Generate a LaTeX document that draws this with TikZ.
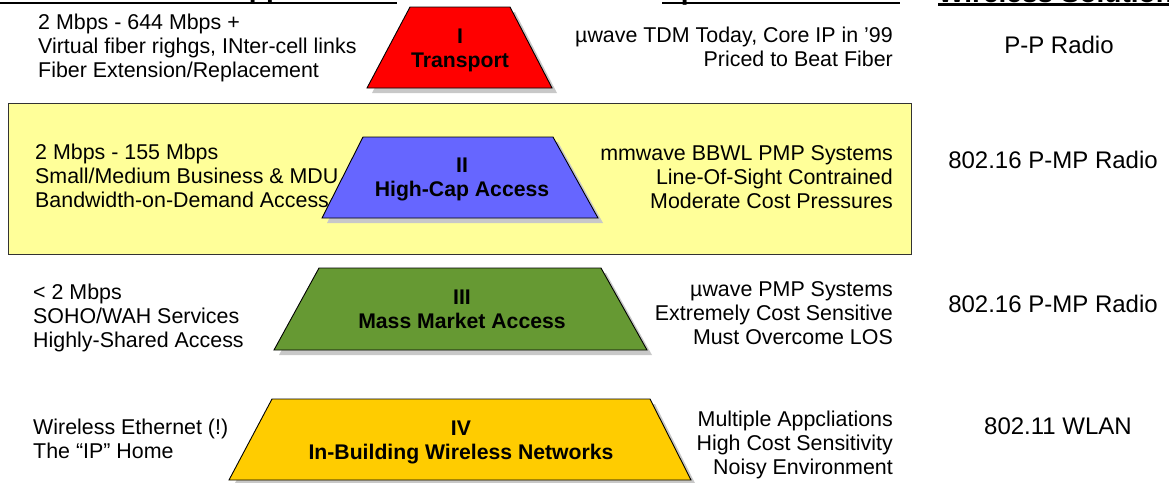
\documentclass[tikz,border=0pt]{standalone}
\usepackage{fontspec}
\setmainfont{Liberation Sans}
\definecolor{tierred}{HTML}{FF0000}
\definecolor{tierblue}{HTML}{6666FF}
\definecolor{tiergreen}{HTML}{669933}
\definecolor{tiergold}{HTML}{FFCC00}
\definecolor{boxyellow}{HTML}{FFFF99}
\definecolor{shadowgray}{HTML}{C8C8C8}
\tikzset{
  lbl/.style={font=\fontsize{21.4}{24}\selectfont, align=left, anchor=base west, inner sep=0pt},
  rlbl/.style={font=\fontsize{21.4}{24}\selectfont, align=right, anchor=base east, inner sep=0pt},
  tierlbl/.style={font=\bfseries\fontsize{21.2}{24}\selectfont, align=center, anchor=base, inner sep=0pt},
  sol/.style={font=\fontsize{24}{28}\selectfont, anchor=base, inner sep=0pt},
  hdr/.style={font=\bfseries\fontsize{28}{32}\selectfont, inner sep=0pt},
  shade/.style={fill=shadowgray, draw=none},
  trap/.style={draw=black, line width=0.9pt},
  uline/.style={line width=2.5pt, draw=black}
}
\begin{document}
\begin{tikzpicture}[x=1pt,y=-1pt]
\useasboundingbox (0,0) rectangle (1169,482);
% headers (cut off at the top)
\node[hdr, anchor=base east] (h1) at (397,-2.5) {Market Tiers \& Applications};
\node[hdr, anchor=base west] (h2) at (662,-1) {Spectrum Issues};
\node[hdr, anchor=base west] (h3) at (938,2.2) {Wireless Solutions};
\draw[uline] (0,3) -- (397,3);
\draw[uline] (662,3) -- (900,3);
\draw[uline] (938,4.5) -- (1169,4.5);
% yellow band
\draw[fill=boxyellow, draw=black!80, line width=0.9pt] (8,103) rectangle (911,254);
% tier I
\fill[shade, shift={(5,5)}] (367,88) -- (410,7) -- (510,7) -- (552,88) -- cycle;
\draw[trap, fill=tierred] (367,88) -- (410,7) -- (510,7) -- (552,88) -- cycle;
\node[tierlbl] (t1) at (460,67) {I\\Transport};
% tier II
\fill[shade, shift={(5,5)}] (322,218) -- (363,137) -- (553,137) -- (598,218) -- cycle;
\draw[trap, fill=tierblue] (322,218) -- (363,137) -- (553,137) -- (598,218) -- cycle;
\node[tierlbl] (t2) at (462,196) {II\\High-Cap Access};
% tier III
\fill[shade, shift={(5,5)}] (274,350) -- (319,268) -- (601,268) -- (647,350) -- cycle;
\draw[trap, fill=tiergreen] (274,350) -- (319,268) -- (601,268) -- (647,350) -- cycle;
\node[tierlbl] (t3) at (462,328) {III\\Mass Market Access};
% tier IV
\fill[shade, shift={(5,5)}] (229,480) -- (272,399) -- (650,399) -- (691,480) -- cycle;
\draw[trap, fill=tiergold] (229,480) -- (272,399) -- (650,399) -- (691,480) -- cycle;
\node[tierlbl] (t4) at (461,459) {IV\\In-Building Wireless Networks};
% left texts
\node[lbl] (l1) at (38,77) {2 Mbps - 644 Mbps +\\Virtual fiber righgs, INter-cell links\\Fiber Extension/Replacement};
\node[lbl] (l2) at (35,207) {2 Mbps - 155 Mbps\\Small/Medium Business \& MDU\\Bandwidth-on-Demand Access};
\node[lbl] (l3) at (33,347) {< 2 Mbps\\SOHO/WAH Services\\Highly-Shared Access};
\node[lbl] (l4) at (33,458) {Wireless Ethernet (!)\\The “IP” Home};
% right texts
\node[rlbl] (r1) at (893,66) {µwave TDM Today, Core IP in '99\\Priced to Beat Fiber};
\node[rlbl] (r2) at (893,208) {mmwave BBWL PMP Systems\\Line-Of-Sight Contrained\\Moderate Cost Pressures};
\node[rlbl] (r3) at (893,344) {µwave PMP Systems\\Extremely Cost Sensitive\\Must Overcome LOS};
\node[rlbl] (r4) at (893,474) {Multiple Appcliations\\High Cost Sensitivity\\Noisy Environment};
% solutions
\node[sol] (s1) at (1059,53.5) {P-P Radio};
\node[sol] (s2) at (1053,168) {802.16 P-MP Radio};
\node[sol] (s3) at (1053,312) {802.16 P-MP Radio};
\node[sol] (s4) at (1058,434) {802.11 WLAN};
\end{tikzpicture}
\end{document}
